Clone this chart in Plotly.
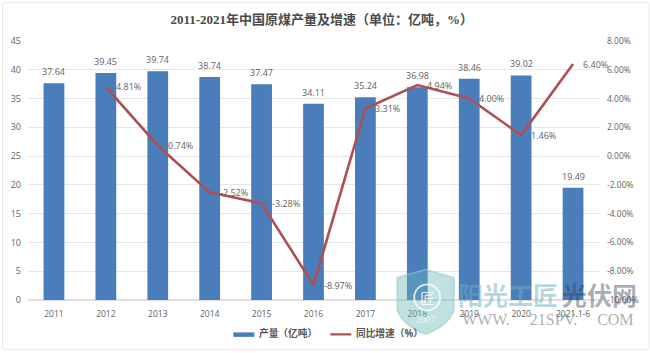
import plotly.graph_objects as go

categories = ["2011","2012","2013","2014","2015","2016","2017","2018","2019","2020","2021.1-6"]
output = [37.64,39.45,39.74,38.74,37.47,34.11,35.24,36.98,38.46,39.02,19.49]
growth = [None,4.81,0.74,-2.52,-3.28,-8.97,3.31,4.94,4.00,1.46,6.40]
growth_labels = ["","4.81%","0.74%","-2.52%","-3.28%","-8.97%","3.31%","4.94%","4.00%","1.46%","6.40%"]
left_ticks = [0,5,10,15,20,25,30,35,40,45]
right_ticks = [-10,-8,-6,-4,-2,0,2,4,6,8]
right_labels = ["-10.00%","-8.00%","-6.00%","-4.00%","-2.00%","0.00%","2.00%","4.00%","6.00%","8.00%"]

FONT = "Open Sans, Noto Sans CJK SC, sans-serif"
GREY = "#626262"
BAR = "#4a7ebb"
LINE = "#ab5055"

fig = go.Figure()
fig.add_trace(go.Bar(x=categories, y=output, name="产量（亿吨）", width=0.4, showlegend=False,
    marker=dict(color=BAR, line_width=0)))
fig.add_trace(go.Scatter(x=categories, y=growth, name="同比增速（%）", yaxis="y2", mode="lines", showlegend=False,
    line=dict(color=LINE, width=2.6), cliponaxis=False))

# on a category axis, annotations are positioned by category index
for i, v in enumerate(output):
    fig.add_annotation(x=i, y=v, xref="x", yref="y", text=f"{v:.2f}", showarrow=False, xanchor="center", yanchor="bottom",
                       yshift=3, font=dict(size=9, color=GREY, family=FONT))
for i, (g, lab) in enumerate(zip(growth, growth_labels)):
    if g is not None:
        fig.add_annotation(x=i, y=g, xref="x", yref="y2", text=lab, showarrow=False, xanchor="left", yanchor="middle",
                           xshift=8, font=dict(size=9, color=GREY, family=FONT))


def px(v):
    return (v - 27.5) / 571.5


def py(v):
    return (300.5 - v) / 260


def label(text, x, y, size, color, family=FONT, anchor="center"):
    fig.add_annotation(text=text, xref="paper", yref="paper", x=px(x), y=py(y), xanchor=anchor, yanchor="middle",
                       showarrow=False, font=dict(size=size, color=color, family=family))


fig.update_layout(
    width=650, height=353, margin=dict(l=27.5, r=51, t=40.5, b=52.5),
    paper_bgcolor="white", plot_bgcolor="white", font=dict(family=FONT, color=GREY, size=9),
    showlegend=False,
    title=dict(text="<b>2011-2021年中国原煤产量及增速（单位：亿吨，%）</b>", x=0.495, xanchor="center", y=0.946, yanchor="middle",
               font=dict(size=13, color="#4a4a4a", family="Liberation Serif, Noto Sans CJK SC, serif")),
    xaxis=dict(type="category", range=[-0.5, 10.5], automargin=False, showgrid=False, showline=False, ticks="", tickfont=dict(size=8.5, color=GREY), ticklabelstandoff=7),
    yaxis=dict(range=[0,45], automargin=False, tickvals=left_ticks, gridcolor="#e6e6e6", gridwidth=1, zeroline=True, zerolinecolor="#e0e0e0",
               tickfont=dict(size=9, color=GREY), ticks="", ticklabelstandoff=6),
    yaxis2=dict(range=[-10,8], automargin=False, overlaying="y", side="right", tickvals=right_ticks, ticktext=right_labels,
                showgrid=False, zeroline=False, tickfont=dict(size=8.5, color=GREY), ticks="", ticklabelstandoff=7),
    bargap=0.6,
)

# frame
fig.add_shape(type="rect", xref="paper", yref="paper", x0=px(2), x1=px(649), y0=py(350), y1=py(2),
              line=dict(color="#e8e8e8", width=1), layer="below")

# legend
fig.add_shape(type="rect", xref="paper", yref="paper", x0=px(233), x1=px(254), y0=py(337.5), y1=py(333),
              fillcolor=BAR, line_width=0)
fig.add_shape(type="line", xref="paper", yref="paper", x0=px(330), x1=px(351), y0=py(335), y1=py(335),
              line=dict(color=LINE, width=2.2))
label("<b>产量（亿吨）</b>", 257, 334.5, 9.7, "#555555", anchor="left")
label("<b>同比增速（%）</b>", 354, 334.5, 9.7, "#555555", anchor="left")

# watermark
fig.add_shape(type="path", xref="paper", yref="paper",
    path=f"M {px(397)} {py(278)} L {px(425.5)} {py(270)} L {px(454)} {py(278)} L {px(454)} {py(310)} "
         f"Q {px(450)} {py(325)} {px(425.5)} {py(335)} Q {px(401)} {py(325)} {px(397)} {py(310)} Z",
    fillcolor="rgba(105,180,185,0.42)", line=dict(color="rgba(150,205,205,0.6)", width=1.5))
fig.add_shape(type="circle", xref="paper", yref="paper", x0=px(414), x1=px(440), y0=py(311), y1=py(285),
              line=dict(color="rgba(255,255,255,0.75)", width=2))
label("匠", 427, 298, 15, "rgba(255,255,255,0.85)", "Noto Sans CJK SC")
label("2007", 425, 321, 9.5, "rgba(255,255,255,0.8)", "Liberation Serif")
label("<b>阳光工匠</b>", 507.5, 294, 25, "rgba(110,175,190,0.5)", "Noto Sans CJK SC")
label("<b>光伏网</b>", 600, 294, 25, "rgba(50,60,75,0.42)", "Noto Sans CJK SC")
label("WWW.\u00a0\u00a0\u00a0\u00a0\u00a021SPV.\u00a0\u00a0\u00a0\u00a0\u00a0COM", 547.5, 320, 16, "rgba(120,130,135,0.65)", "Liberation Serif")

fig.write_html("out.html", config={"displayModeBar": False}, post_script="document.body.style.margin='0';")
